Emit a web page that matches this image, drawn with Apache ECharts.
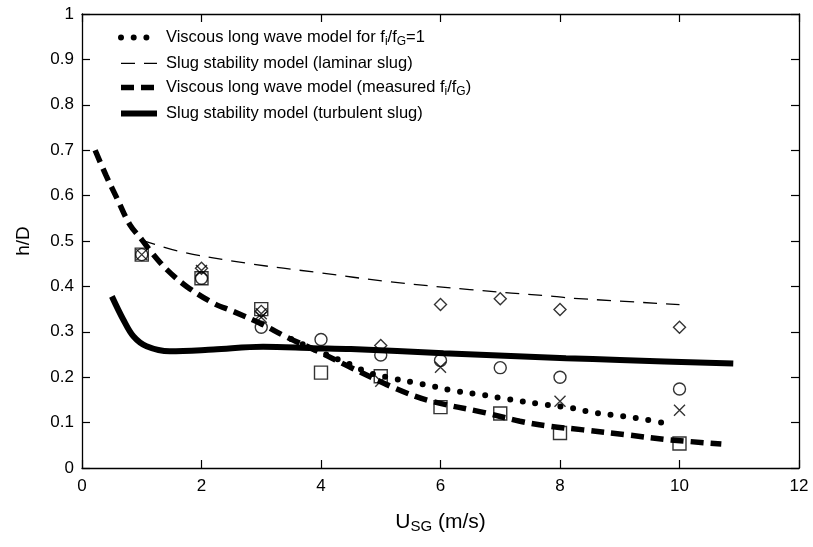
<!DOCTYPE html>
<html>
<head>
<meta charset="utf-8">
<script src="https://cdn.jsdelivr.net/npm/echarts@6/dist/echarts.min.js"></script>
<style>
  html, body { margin: 0; padding: 0; background: #fff; }
  #chart { width: 813px; height: 547px; }
</style>
</head>
<body>
<div id="chart"></div>
<script>
// Axis ranges and ticks
const xMin = 0, xMax = 12, xStep = 2;
const yMin = 0, yMax = 1, yStep = 0.1;

// Viscous long wave model, f_i/f_G = 1 (dotted)
const unityX = [3.5, 3.98, 4.49, 4.82, 5.18, 5.6, 5.88, 6.27, 6.72, 7.11, 7.78, 8.19, 8.61, 9.05, 9.47, 9.7];
const unityY = [0.284, 0.256, 0.228, 0.209, 0.198, 0.187, 0.18, 0.169, 0.161, 0.152, 0.139, 0.132, 0.121, 0.114, 0.106, 0.1];

// Slug stability model, laminar slug (thin dashed)
const laminarX = [1.0, 1.64, 2.76, 3.98, 5.1, 6.49, 7.89, 8.2, 10.0];
const laminarY = [0.502, 0.477, 0.451, 0.43, 0.411, 0.393, 0.378, 0.374, 0.36];

// Viscous long wave model, measured f_i/f_G (thick dashed)
const measuredX = [0.22, 0.4, 0.6, 0.8, 1.0, 1.17, 1.42, 1.75, 2.2, 2.53, 2.98, 3.43, 3.98, 4.49, 5.27, 5.82, 6.77, 7.33, 7.83, 8.39, 9.12, 9.84, 10.7];
const measuredY = [0.70, 0.645, 0.59, 0.536, 0.503, 0.474, 0.437, 0.40, 0.363, 0.345, 0.319, 0.288, 0.255, 0.222, 0.174, 0.148, 0.121, 0.103, 0.092, 0.084, 0.073, 0.062, 0.053];

// Slug stability model, turbulent slug (thick solid)
const turbulentX = [0.5, 0.69, 0.86, 1.08, 1.47, 2.2, 3.03, 3.87, 4.5, 6.05, 8.1, 9.0, 10.9];
const turbulentY = [0.378, 0.327, 0.29, 0.268, 0.257, 0.261, 0.267, 0.264, 0.262, 0.253, 0.242, 0.238, 0.23];

// Experimental points
const squareX = [1, 2, 3, 4, 5, 6, 7, 8, 10];
const squareY = [0.47, 0.418, 0.35, 0.21, 0.202, 0.134, 0.12, 0.077, 0.054];
const circleX = [1, 2, 3, 4, 5, 6, 7, 8, 10];
const circleY = [0.47, 0.418, 0.31, 0.283, 0.249, 0.237, 0.221, 0.2, 0.174];
const crossX = [1, 2, 3, 3, 5, 6, 8, 10];
const crossY = [0.47, 0.435, 0.34, 0.332, 0.191, 0.222, 0.147, 0.127];
const diamondX = [2, 3, 5, 6, 7, 8, 10];
const diamondY = [0.44, 0.345, 0.27, 0.36, 0.373, 0.349, 0.31];

// Legend entries (rich-text markup for subscripts)
const legendNames = [
  'Viscous long wave model for fi/fG=1',
  'Slug stability model (laminar slug)',
  'Viscous long wave model (measured fi/fG)',
  'Slug stability model (turbulent slug)'
];
const legendRich = {
  'Viscous long wave model for fi/fG=1': '{n|Viscous long wave model for f}{s|i}{n|/f}{s|G}{n|=1}',
  'Slug stability model (laminar slug)': '{n|Slug stability model (laminar slug)}',
  'Viscous long wave model (measured fi/fG)': '{n|Viscous long wave model (measured f}{s|i}{n|/f}{s|G}{n|)}',
  'Slug stability model (turbulent slug)': '{n|Slug stability model (turbulent slug)}'
};

const zip = (xs, ys) => xs.map((x, i) => [x, ys[i]]);
const FONT = '"Liberation Sans", Arial, Helvetica, sans-serif';
const INK = '#000';
const CLEAR = 'rgba(0,0,0,0)';

const chart = echarts.init(document.getElementById('chart'), null, { renderer: 'canvas' });

const axisCommon = {
  type: 'value',
  axisLine: { show: true, onZero: false, lineStyle: { color: INK, width: 1.3 } },
  axisTick: { show: true, inside: true, length: 8, lineStyle: { color: INK, width: 1.2 } },
  splitLine: { show: false }
};

function lineSeries(name, xs, ys, style) {
  return {
    name, type: 'line', data: zip(xs, ys), symbol: 'none', smooth: 0.35,
    itemStyle: { color: INK },
    lineStyle: Object.assign({ color: INK }, style), z: 2, silent: true
  };
}
function pointSeries(name, xs, ys, symbol, size) {
  return {
    name, type: 'scatter', data: zip(xs, ys), symbol, symbolSize: size,
    itemStyle: { color: CLEAR, borderColor: INK, borderWidth: 1.4 }, z: 3, silent: true
  };
}

chart.setOption({
  animation: false,
  backgroundColor: '#fff',
  textStyle: { fontFamily: FONT, color: INK },
  grid: { left: 82, right: 14, top: 14, bottom: 79, containLabel: false },
  legend: {
    data: legendNames,
    orient: 'vertical',
    left: 113, top: 24,
    itemWidth: 36, itemHeight: 14, itemGap: 7.3,
    itemStyle: { color: CLEAR, borderColor: CLEAR, borderWidth: 0, opacity: 0 },
    lineStyle: { width: 'inherit' },
    formatter: name => legendRich[name],
    textStyle: {
      fontFamily: FONT, fontSize: 16.5, color: INK, padding: [0, 0, 0, 4],
      rich: {
        n: { fontFamily: FONT, fontSize: 16.5, color: INK, lineHeight: 20, verticalAlign: 'middle' },
        s: { fontFamily: FONT, fontSize: 12, color: INK, lineHeight: 12, verticalAlign: 'bottom' }
      }
    },
    selectedMode: false
  },
  xAxis: [
    Object.assign({}, axisCommon, {
      min: xMin, max: xMax, interval: xStep, position: 'bottom',
      axisLabel: { fontFamily: FONT, fontSize: 17, color: INK, margin: 10 },
      name: '{n|U}{s|SG}{n| (m/s)}',
      nameLocation: 'middle', nameGap: 42,
      nameTextStyle: {
        rich: {
          n: { fontFamily: FONT, fontSize: 21, color: INK, lineHeight: 24, verticalAlign: 'middle' },
          s: { fontFamily: FONT, fontSize: 15, color: INK, lineHeight: 14, verticalAlign: 'bottom' }
        }
      }
    }),
    Object.assign({}, axisCommon, {
      min: xMin, max: xMax, interval: xStep, position: 'top',
      axisLabel: { show: false }
    })
  ],
  yAxis: [
    Object.assign({}, axisCommon, {
      min: yMin, max: yMax, interval: yStep, position: 'left',
      axisLabel: {
        fontFamily: FONT, fontSize: 17, color: INK, margin: 8,
        formatter: v => (v === 0 ? '0' : Math.abs(v - 1) < 1e-9 ? '1' : v.toFixed(1))
      },
      name: 'h/D', nameLocation: 'middle', nameGap: 49, nameRotate: 90,
      nameTextStyle: { fontFamily: FONT, fontSize: 19, color: INK }
    }),
    Object.assign({}, axisCommon, {
      min: yMin, max: yMax, interval: yStep, position: 'right',
      axisLabel: { show: false }
    })
  ],
  series: [
    lineSeries(legendNames[0], unityX, unityY, { width: 6, type: [0, 12.7], cap: 'round' }),
    lineSeries(legendNames[1], laminarX, laminarY, { width: 1.3, type: [14, 9] }),
    lineSeries(legendNames[2], measuredX, measuredY, { width: 5.5, type: [13, 7] }),
    lineSeries(legendNames[3], turbulentX, turbulentY, { width: 6 }),
    pointSeries('Data set 1', squareX, squareY, 'rect', 13),
    pointSeries('Data set 2', circleX, circleY, 'circle', 12),
    pointSeries('Data set 3', crossX, crossY, 'path://M0,0L10,10M10,0L0,10', 11),
    pointSeries('Data set 4', diamondX, diamondY, 'diamond', 12)
  ]
});
</script>
</body>
</html>
